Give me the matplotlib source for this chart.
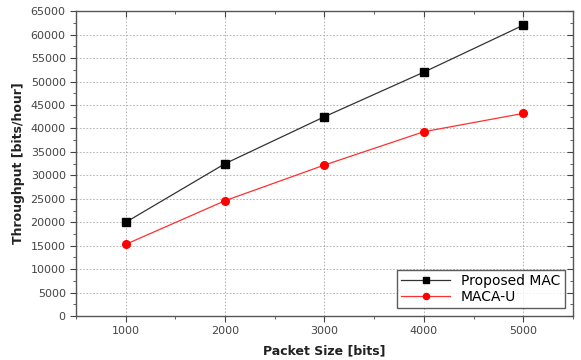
import numpy as np
import matplotlib

matplotlib.use("agg")
import matplotlib.pyplot as plt
from matplotlib.ticker import MultipleLocator

packet_size = [1000, 2000, 3000, 4000, 5000]
proposed_mac = [20000, 32500, 42500, 52000, 62000]
maca_u = [15300, 24600, 32200, 39300, 43200]

fig = plt.figure(figsize=(5.81, 3.6), dpi=100)
ax = fig.add_axes([0.131, 0.122, 0.855, 0.847])

ax.plot(packet_size, proposed_mac, color="#333333", lw=0.9, marker="s",
        ms=5.5, mfc="black", mec="black", label="Proposed MAC")
ax.plot(packet_size, maca_u, color="#ff3030", lw=0.9, marker="o",
        ms=5.5, mfc="red", mec="red", label="MACA-U")

ax.set_xlim(500, 5500)
ax.set_ylim(0, 65000)
ax.xaxis.set_major_locator(MultipleLocator(1000))
ax.xaxis.set_minor_locator(MultipleLocator(500))
ax.yaxis.set_major_locator(MultipleLocator(5000))
ax.yaxis.set_minor_locator(MultipleLocator(2500))

ax.grid(True, which="major", color="#aaaaaa", ls=(0, (2, 2)), lw=0.6)
ax.tick_params(which="both", labelsize=8, labelcolor="#444444", colors="#444444")
ax.tick_params(which="both", left=True, bottom=True, direction="out")
ax.tick_params(which="both", top=True, right=True)
ax.tick_params(which="major", length=4)
ax.tick_params(which="minor", length=2.5)
# top/right ticks point inward
for t in ax.xaxis.get_major_ticks() + ax.xaxis.get_minor_ticks():
    t.tick2line.set_marker(3)
for t in ax.yaxis.get_major_ticks() + ax.yaxis.get_minor_ticks():
    t.tick2line.set_marker(0)
for s in ax.spines.values():
    s.set_color("#555555")
    s.set_linewidth(1.0)

ax.set_xlabel("Packet Size [bits]", fontsize=9, fontweight="bold",
              color="#222222", labelpad=6)
ax.set_ylabel("Throughput [bits/hour]", fontsize=9, fontweight="bold", color="#222222")

leg = ax.legend(loc="lower right", fontsize=10, frameon=True, fancybox=False,
                edgecolor="#333333", borderaxespad=0.6, handlelength=3.5,
                labelspacing=0.1, borderpad=0.3, markerscale=0.8)
leg.get_frame().set_linewidth(1.0)

plt.savefig("out.png", dpi=100)
